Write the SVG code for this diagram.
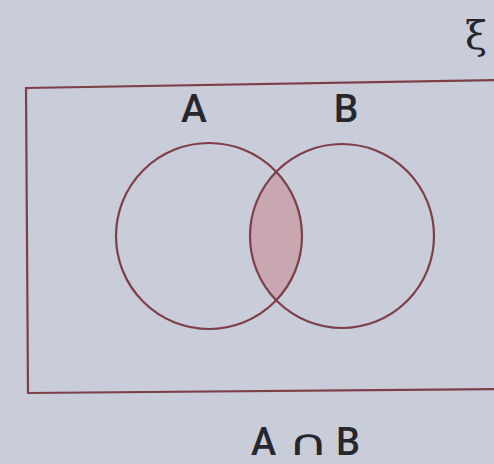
<svg xmlns="http://www.w3.org/2000/svg" width="494" height="464" viewBox="0 0 494 464">
<style>
.ln{fill:none;stroke:#7d3f48;stroke-width:2.2}
.lbl{font-family:Roboto,"Liberation Sans",Arial,sans-serif;font-weight:500;fill:#26262c}
</style>
<defs>
<clipPath id="clipA"><circle cx="209" cy="236" r="93"/></clipPath>
</defs>
<rect width="494" height="464" fill="#c9ccd9"/>
<g id="universe">
<path class="ln" d="M500 80 L26 88 L28 393 L500 389"/>
<text x="476" y="49" font-size="40" text-anchor="middle" font-family="'DejaVu Serif',serif" fill="#26262c">ξ</text>
</g>
<g id="intersection">
<circle cx="342" cy="236" r="92" fill="#c8a7b1" clip-path="url(#clipA)"/>
</g>
<g id="setA">
<circle class="ln" cx="209" cy="236" r="93"/>
<text class="lbl" x="194" y="122" font-size="39" text-anchor="middle">A</text>
</g>
<g id="setB">
<circle class="ln" cx="342" cy="236" r="92"/>
<text class="lbl" x="346" y="122" font-size="39" text-anchor="middle">B</text>
</g>
<g id="caption">
<text class="lbl" y="455" font-size="38"><tspan x="251">A</tspan><tspan x="336">B</tspan></text>
<text transform="translate(308,455) scale(1.55,1)" text-anchor="middle" font-family="'DejaVu Sans',sans-serif" font-size="36" fill="#26262c">∩</text>
</g>
</svg>
